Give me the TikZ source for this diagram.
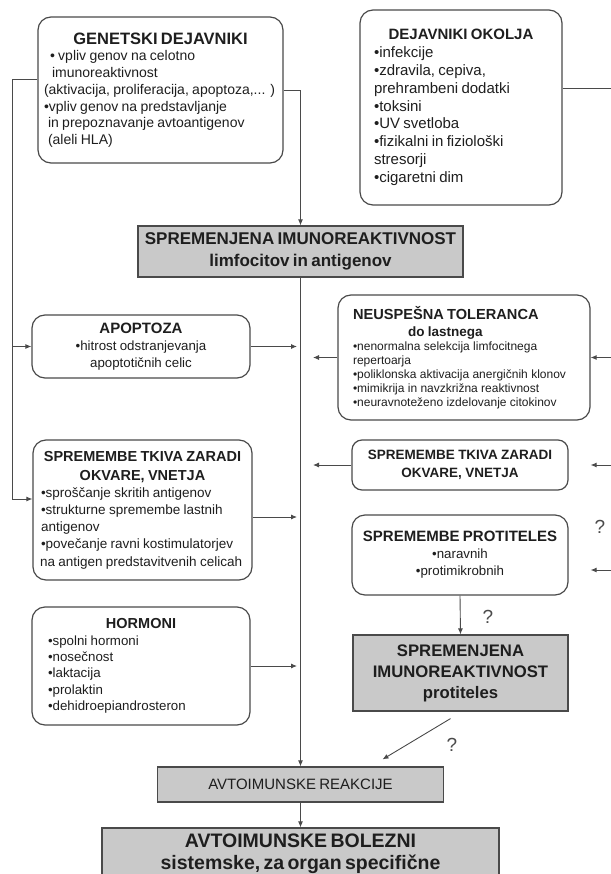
\documentclass[tikz,border=0pt]{standalone}
\usepackage{fontspec}
\setmainfont{Liberation Sans}
\usetikzlibrary{arrows.meta, positioning}
\definecolor{lineGray}{HTML}{4A4A4A}
\definecolor{boxGray}{HTML}{C9C9C9}
\definecolor{inkGray}{HTML}{1E1E1E}
\newcommand{\fsz}[2]{\fontsize{#1}{#2}\selectfont}

\begin{document}
\begin{tikzpicture}[x=1pt, y=-1pt,
    factor/.style={draw=lineGray, line width=1.2pt, rounded corners=13pt, text=inkGray, inner ysep=2pt, align=left},
    result/.style={draw=lineGray, line width=1.2pt, fill=boxGray, text=inkGray, inner sep=2pt, align=center},
    link/.style={draw=lineGray, line width=0.9pt},
    arr/.style={link, -{Latex[length=6pt,width=5pt]}},
    query/.style={text=lineGray, font=\fsz{19}{22}}]

        \useasboundingbox (0,0) rectangle (610,874);

        % --- 1. Factors (Top) ---
        \node[factor, minimum width=245pt, minimum height=146pt, inner xsep=6pt, text width=233pt] (genetski) at (160.5,90)
            {{\centering\fsz{16.5}{19}\bfseries GENETSKI DEJAVNIKI\par}\fsz{14}{16.7}%
             \hspace*{6pt}• vpliv genov na celotno\\
             \hspace*{8pt}imunoreaktivnost\\
             (aktivacija, proliferacija, apoptoza,... )\\
             •vpliv genov na predstavljanje\\
             \hspace*{4pt}in prepoznavanje avtoantigenov\\
             \hspace*{4pt}(aleli HLA)\par};

        \node[factor, minimum width=202pt, minimum height=195pt, inner xsep=14pt, text width=174pt] (okolja) at (461,107.5)
            {{\centering\fsz{15}{18}\bfseries DEJAVNIKI OKOLJA\par}\fsz{15}{17.8}%
             •infekcije\\
             •zdravila, cepiva,\\
             prehrambeni dodatki\\
             •toksini\\
             •UV svetloba\\
             •fizikalni in fiziološki\\
             stresorji\\
             •cigaretni dim\par};

        % Altered reactivity of lymphocytes
        \node[result, minimum width=325pt, minimum height=51pt, text width=321pt] (gray1) at (300.5,251.5)
            {\fsz{17}{21.5}\bfseries SPREMENJENA IMUNOREAKTIVNOST\\ limfocitov in antigenov\par};

        % --- 2. Left column ---
        \node[factor, minimum width=218pt, minimum height=63pt, inner xsep=6pt, text width=206pt, align=center] (apoptoza) at (141,346.5)
            {{\fsz{15}{17}\bfseries APOPTOZA\par}\fsz{13.3}{17}%
             •hitrost odstranjevanja\\ apoptotičnih celic\par};

        \node[factor, minimum width=219pt, minimum height=140pt, inner xsep=5pt, text width=209pt] (tkivaL) at (142.5,510)
            {{\centering\fsz{14.5}{19}\bfseries SPREMEMBE TKIVA ZARADI\\ OKVARE, VNETJA\par}\fsz{13.5}{17.2}%
             \hspace*{3pt}•sproščanje skritih antigenov\\
             \hspace*{3pt}•strukturne spremembe lastnih\\
             \hspace*{3pt}antigenov\\
             \hspace*{3pt}•povečanje ravni kostimulatorjev\\
             \mbox{\hspace*{2pt}na antigen predstavitvenih celicah}\par};

        \node[factor, minimum width=218pt, minimum height=118pt, inner xsep=16pt, text width=186pt] (hormoni) at (141,666)
            {{\centering\fsz{14.5}{17}\bfseries HORMONI\par}\fsz{13.3}{16.3}%
             •spolni hormoni\\
             •nosečnost\\
             •laktacija\\
             •prolaktin\\
             •dehidroepiandrosteron\par};

        % --- 3. Right column ---
        \node[factor, minimum width=252pt, minimum height=125pt, inner xsep=15pt, text width=222pt] (neuspesna) at (464,357.5)
            {{\fsz{14.6}{17}\bfseries NEUSPEŠNA TOLERANCA\par}%
             {\fsz{13.5}{17}\bfseries\hspace*{55pt}do lastnega\par}\fsz{12}{14}%
             •nenormalna selekcija limfocitnega\\
             repertoarja\\
             •poliklonska aktivacija anergičnih klonov\\
             •mimikrija in navzkrižna reaktivnost\\
             •neuravnoteženo izdelovanje citokinov\par};

        \node[factor, minimum width=216pt, minimum height=50pt, inner xsep=6pt, text width=204pt, align=center, rounded corners=10pt] (tkivaR) at (460,465)
            {\fsz{13.5}{18}\bfseries SPREMEMBE TKIVA ZARADI\\ OKVARE, VNETJA\par};

        \node[factor, minimum width=216pt, minimum height=80pt, inner xsep=6pt, text width=204pt, align=center] (protiteles) at (460,555)
            {{\fsz{15}{18}\bfseries SPREMEMBE PROTITELES\par}\fsz{13.3}{17}%
             •naravnih\\ •protimikrobnih\par};

        % Altered reactivity of antibodies
        \node[result, minimum width=215pt, minimum height=76pt, text width=211pt] (gray2) at (460.5,673)
            {\fsz{16.7}{21}\bfseries SPREMENJENA\\ IMUNOREAKTIVNOST\\ protiteles\par};

        % --- 4. Outcome (Bottom) ---
        \node[result, minimum width=286pt, minimum height=35pt, text width=282pt] (reakcije) at (300.5,784.5)
            {\fsz{15}{18}AVTOIMUNSKE REAKCIJE\par};

        \node[result, minimum width=397pt, minimum height=52pt, text width=393pt] (bolezni) at (300.5,854)
            {\fsz{19.5}{22}\bfseries AVTOIMUNSKE BOLEZNI\\ sistemske, za organ specifične\par};

        % --- 5. Connectors ---
        \coordinate (lbus) at (12,79);
        \coordinate (rbus) at (614,88);
        \coordinate (trunkL) at (297,0);
        \coordinate (trunkR) at (313,0);
        \coordinate (tkOut) at ([yshift=-7pt]tkivaL.east);
        \coordinate (abIn) at ([yshift=-15pt]protiteles.east);

        % genetic factors
        \draw[arr] ([yshift=11pt]genetski.west) -- (lbus) |- ([yshift=11pt]tkivaL.west);
        \draw[arr] (lbus |- apoptoza.west) -- (apoptoza.west);
        \draw[arr] (genetski.east) -| (gray1.north);

        % environmental factors
        \draw[link] ([yshift=19.5pt]okolja.east) -- (rbus) -- (rbus |- abIn);
        \draw[arr] (rbus |- neuspesna.east) -- (neuspesna.east);
        \draw[arr] (rbus |- tkivaR.east) -- (tkivaR.east -| neuspesna.east);
        \draw[arr] (rbus |- abIn) -- (abIn -| neuspesna.east);

        % into the main line
        \draw[arr] (apoptoza.east) -- (apoptoza.east -| trunkL);
        \draw[arr] (tkOut) -- (tkOut -| trunkL);
        \draw[arr] (hormoni.east) -- (hormoni.east -| trunkL);
        \draw[arr] (neuspesna.west) -- (neuspesna.west -| trunkR);
        \draw[arr] (tkivaR.west) -- (tkivaR.west -| trunkR);

        % main line and antibodies
        \draw[arr] (gray1.south) -- (reakcije.north);
        \draw[arr] (protiteles.south) -- (gray2.north);
        \draw[arr] ([xshift=-10pt,yshift=-7pt]gray2.south) -- ([xshift=82pt,yshift=7pt]reakcije.north);
        \draw[arr] (reakcije.south) -- (bolezni.north);

        % Labels
        \node[query] (q1) at (600,527) {?};
        \node[query] (q2) at (488,617) {?};
        \node[query] (q3) at (452,745) {?};

\end{tikzpicture}
\end{document}
